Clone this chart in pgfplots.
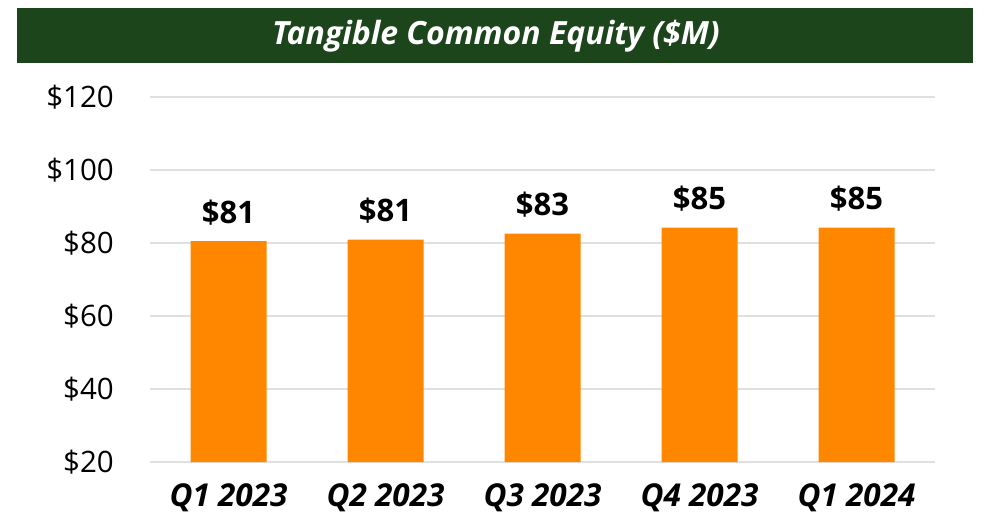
\documentclass[border=0pt]{standalone}
\usepackage{pgfplots}
\pgfplotsset{compat=1.18}
\usepackage{pgfplotstable}
\usepackage{fontspec}
\setmainfont{Open Sans}
\definecolor{bannergreen}{HTML}{1C451C}
\definecolor{barorange}{HTML}{FF8700}
\definecolor{gridgray}{HTML}{E0E0E0}
\pgfplotstableread{
x y lab
0 80.5 81
1 80.9 81
2 82.6 83
3 84.2 85
4 84.2 85
}\tce
\begin{document}
\begin{tikzpicture}[x=1pt,y=1pt]
\path (0,0) rectangle (984,-513);
\fill[bannergreen] (17,-8) rectangle (973,-63);
\node[text=white, font=\fontsize{32}{38}\selectfont\bfseries\itshape, anchor=base, inner sep=0pt] at (496,-45) {Tangible Common Equity (\$M)};
\begin{axis}[
  at={(150pt,-462pt)}, anchor=south west,
  scale only axis, width=785pt, height=365pt,
  xmin=-0.5, xmax=4.5, ymin=20, ymax=120,
  ytick={20,40,...,120},
  yticklabel={\$\pgfmathprintnumber{\tick}},
  /pgf/number format/assume math mode=true,
  xtick=data,
  xticklabels={Q1 2023,Q2 2023,Q3 2023,Q4 2023,Q1 2024},
  axis line style={draw=none},
  tick style={draw=none},
  ymajorgrids, grid style={gridgray, line width=1.5pt},
  y tick label style={font=\fontsize{29.5}{35}\selectfont, inner sep=0pt, anchor=east, xshift=-36pt},
  x tick label style={font=\fontsize{31.5}{37}\selectfont\bfseries\itshape, inner sep=0pt, anchor=base, yshift=-40pt},
  ybar, bar width=76pt,
  point meta=explicit symbolic,
  nodes near coords={\$\pgfplotspointmeta},
  every node near coord/.append style={font=\fontsize{31}{37}\selectfont\bfseries, anchor=base, inner sep=0pt, yshift=18pt},
]
\addplot[fill=barorange, draw=none] table[x=x, y=y, meta=lab] {\tce};
\end{axis}
\end{tikzpicture}
\end{document}
